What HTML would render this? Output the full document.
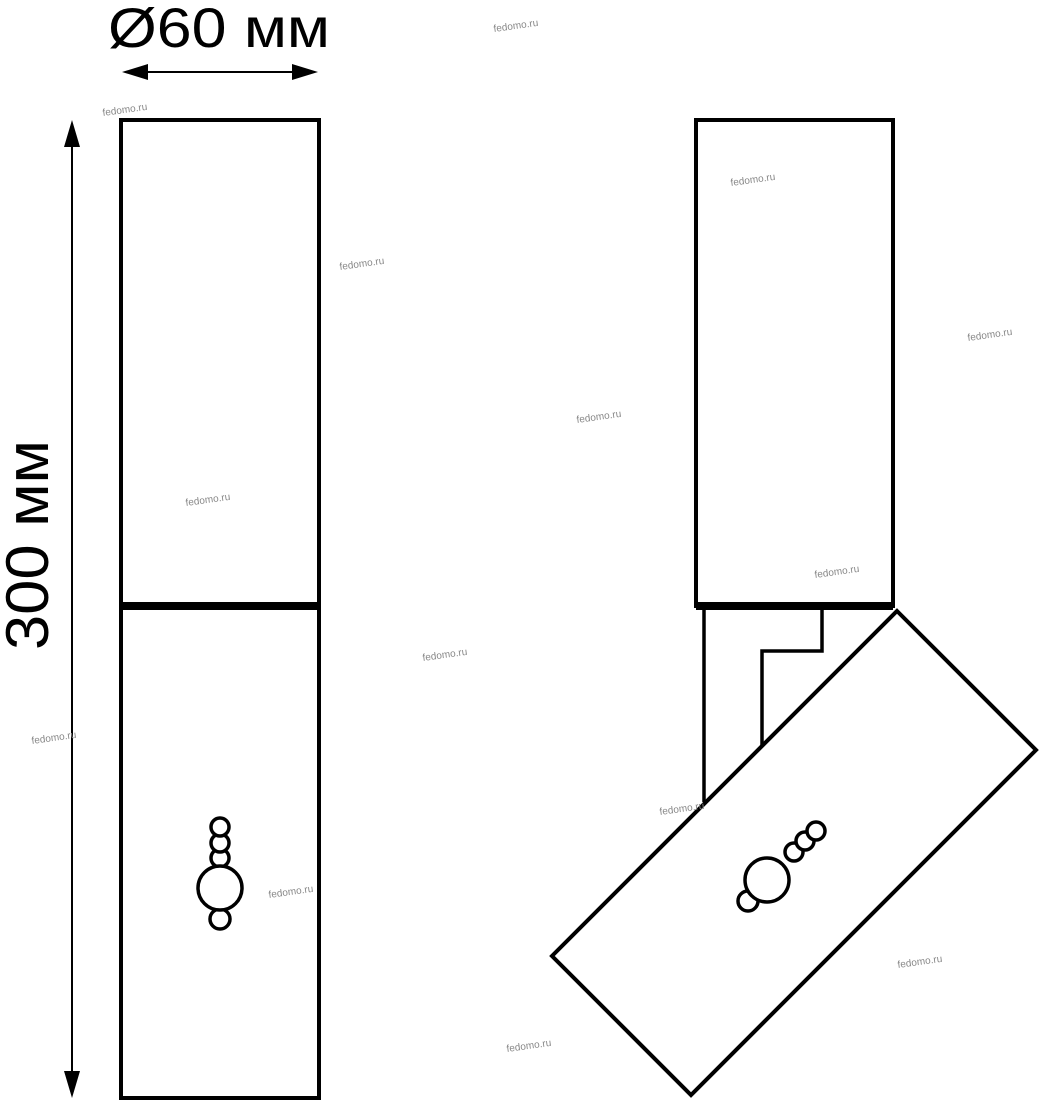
<!DOCTYPE html>
<html><head><meta charset="utf-8"><style>
html,body{margin:0;padding:0;background:#fff;width:1040px;height:1100px;overflow:hidden}
svg{display:block}
.wm{font-family:"Liberation Sans",sans-serif;font-size:10px;fill:#888}
</style></head><body>
<svg width="1040" height="1100" viewBox="0 0 1040 1100" xmlns="http://www.w3.org/2000/svg">
<g fill="none" stroke="#000" stroke-width="4">
<rect x="121" y="120" width="198" height="978"/>
<rect x="696" y="120" width="197" height="486"/>
<polygon points="897,611 1036,750 691,1095 552,956"/>
</g>
<line x1="121" y1="606" x2="319" y2="606" stroke="#000" stroke-width="8"/>
<line x1="696" y1="606" x2="893" y2="606" stroke="#000" stroke-width="8"/>
<g fill="none" stroke="#000" stroke-width="3.5">
<polyline points="704,610 704,802"/>
<polyline points="822,610 822,651 762,651 762,745"/>
</g>
<g fill="#fff" stroke="#000" stroke-width="3.5">
<circle cx="220" cy="919" r="10"/>
<circle cx="220" cy="858" r="9"/>
<circle cx="220" cy="843" r="9"/>
<circle cx="220" cy="827" r="9"/>
<circle cx="220" cy="888" r="22"/>
</g>
<g fill="#fff" stroke="#000" stroke-width="3.5">
<circle cx="748" cy="901" r="10"/>
<circle cx="794" cy="852" r="9"/>
<circle cx="805" cy="841" r="9"/>
<circle cx="816" cy="831" r="9"/>
<circle cx="767" cy="880" r="22"/>
</g>
<line x1="134" y1="72" x2="306" y2="72" stroke="#000" stroke-width="2"/>
<polygon points="122,72 148,64 148,80" fill="#000"/>
<polygon points="318,72 292,64 292,80" fill="#000"/>
<line x1="72" y1="134" x2="72" y2="1084" stroke="#000" stroke-width="2"/>
<polygon points="72,120 64,147 80,147" fill="#000"/>
<polygon points="72,1098 64,1071 80,1071" fill="#000"/>
<text x="108" y="47" font-family="Liberation Sans,sans-serif" font-size="56" fill="#000" textLength="222" lengthAdjust="spacingAndGlyphs">Ø60 мм</text>
<text transform="translate(48,545) rotate(-90)" text-anchor="middle" font-family="Liberation Sans,sans-serif" font-size="60" fill="#000" textLength="210" lengthAdjust="spacingAndGlyphs">300 мм</text>
<g class="wm">
<text x="494" y="32" transform="rotate(-8 494 32)">fedomo.ru</text>
<text x="103" y="116" transform="rotate(-8 103 116)">fedomo.ru</text>
<text x="731" y="186" transform="rotate(-8 731 186)">fedomo.ru</text>
<text x="340" y="270" transform="rotate(-8 340 270)">fedomo.ru</text>
<text x="968" y="341" transform="rotate(-8 968 341)">fedomo.ru</text>
<text x="577" y="423" transform="rotate(-8 577 423)">fedomo.ru</text>
<text x="186" y="506" transform="rotate(-8 186 506)">fedomo.ru</text>
<text x="815" y="578" transform="rotate(-8 815 578)">fedomo.ru</text>
<text x="423" y="661" transform="rotate(-8 423 661)">fedomo.ru</text>
<text x="32" y="744" transform="rotate(-8 32 744)">fedomo.ru</text>
<text x="660" y="815" transform="rotate(-8 660 815)">fedomo.ru</text>
<text x="269" y="898" transform="rotate(-8 269 898)">fedomo.ru</text>
<text x="898" y="968" transform="rotate(-8 898 968)">fedomo.ru</text>
<text x="507" y="1052" transform="rotate(-8 507 1052)">fedomo.ru</text>
</g>
</svg>
</body></html>
